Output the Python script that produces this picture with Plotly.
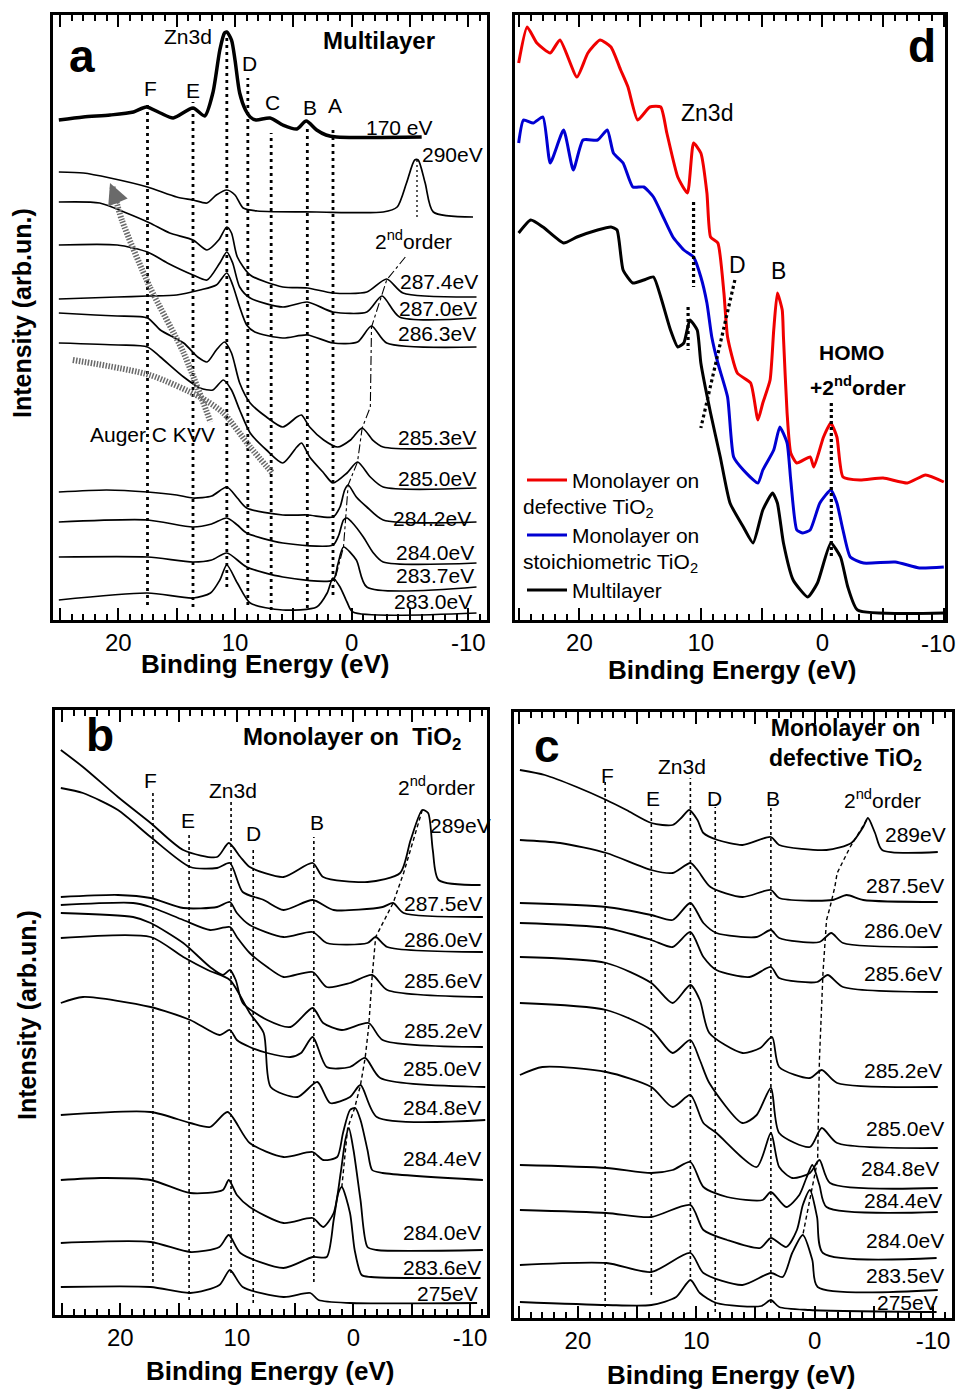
import plotly.graph_objects as go

FONT = "Liberation Sans, Arial, Helvetica, sans-serif"
W, H = 961, 1389

# ---------------- Panel a : Multilayer ----------------
a_names = ['170 eV', '290eV', '287.4eV', '287.0eV', '286.3eV', '285.3eV', '285.0eV',
           '284.2eV', '284.0eV', '283.7eV', '283.0eV']
a_E = [
    [25.1, 23.0, 20.7, 18.7, 17.6, 16.4, 15.3, 13.6, 12.6, 11.9, 11.3, 10.9, 10.7, 10.3, 10.0, 9.6, 9.1, 8.7, 8.2, 7.0, 5.9, 4.7, 3.9, 3.0, 2.2, 1.3, -6.0],
    [25.1, 23.0, 20.7, 17.5, 15.0, 13.6, 12.4, 11.6, 10.7, 10.0, 9.3, 8.1, 3.0, -2.7, -3.9, -4.7, -5.4, -5.7, -6.3, -7.0, -10.4],
    [25.1, 21.6, 19.3, 17.3, 15.6, 13.6, 12.4, 11.4, 10.7, 10.3, 9.8, 8.7, 5.9, 3.8, 1.6, -1.3, -3.0, -4.4, -10.7],
    [25.1, 20.1, 17.5, 15.8, 13.6, 12.4, 11.3, 10.7, 10.2, 9.6, 8.7, 5.9, 3.8, 1.6, -1.3, -2.6, -4.1, -10.7],
    [25.1, 20.1, 17.5, 15.0, 13.0, 11.6, 10.7, 10.2, 9.6, 9.0, 8.3, 5.9, 3.8, 1.6, -0.5, -1.7, -3.0, -10.7],
    [25.1, 22.0, 20.1, 17.5, 16.4, 14.4, 13.2, 12.4, 11.6, 10.9, 10.3, 9.6, 8.7, 7.3, 5.9, 4.7, 4.3, 3.6, 2.4, 1.2, 0.1, -0.9, -1.8, -2.7, -10.7],
    [25.1, 20.0, 17.5, 16.4, 14.4, 13.0, 11.9, 11.0, 10.3, 9.6, 8.7, 7.3, 5.9, 4.7, 4.3, 3.6, 2.4, 1.6, 0.4, -0.5, -1.6, -2.7, -10.7],
    [25.1, 21.0, 17.5, 15.0, 13.6, 12.0, 10.7, 9.8, 9.0, 5.9, 3.8, 1.6, 1.0, 0.6, 0.3, -0.4, -1.3, -2.7, -10.7],
    [25.1, 17.5, 13.6, 12.0, 10.7, 9.8, 9.0, 5.9, 1.6, 1.1, 0.7, 0.4, 0.0, -1.0, -1.8, -2.7, -10.7],
    [25.1, 17.5, 13.6, 12.0, 10.7, 9.0, 5.9, 1.6, 1.2, 0.7, -0.4, -1.3, -10.7],
    [25.1, 17.5, 13.6, 12.1, 11.3, 10.7, 9.8, 8.7, 5.9, 3.0, 2.1, 1.6, 1.0, 0.4, -0.1, -10.7],
]
a_I = [
    [500, 503, 505, 508, 513, 507, 502, 512, 504, 527, 570, 587, 588, 580, 560, 527, 510, 503, 500, 502, 495, 491, 499, 490, 485, 483, 483],
    [448, 447, 442, 433, 423, 420, 417, 425, 430, 425, 412, 409, 408, 408, 413, 437, 460, 460, 437, 408, 403],
    [418, 417, 407, 397, 387, 380, 370, 380, 393, 387, 363, 345, 333, 332, 327, 328, 341, 327, 323],
    [375, 375, 368, 357, 345, 340, 357, 368, 357, 333, 322, 313, 318, 308, 308, 324, 303, 302],
    [321, 323, 324, 325, 330, 335, 347, 335, 313, 295, 288, 282, 285, 277, 278, 294, 277, 273],
    [307, 305, 304, 302, 290, 277, 263, 258, 270, 278, 267, 237, 217, 203, 193, 203, 205, 193, 180, 173, 180, 192, 180, 173, 172],
    [277, 275, 273, 263, 243, 232, 230, 240, 230, 210, 187, 170, 157, 173, 177, 163, 147, 137, 147, 158, 143, 133, 132],
    [128, 130, 128, 125, 122, 124, 133, 122, 112, 105, 105, 103, 113, 130, 135, 123, 113, 100, 98],
    [98, 100, 93, 96, 102, 95, 87, 77, 75, 85, 100, 102, 98, 83, 68, 58, 57],
    [63, 63, 58, 60, 67, 53, 43, 40, 55, 73, 60, 33, 33],
    [20, 27, 22, 27, 40, 55, 37, 17, 10, 13, 27, 42, 33, 18, 8, 7],
]
a_marks = ['F', 'E', 'Zn3d', 'D', 'C', 'B', 'A']
a_mark_E = [17.5, 13.6, 10.7, 8.9, 6.9, 3.8, 1.6]
a_mark_lo = [15, 13, 33, 15, 10, 12, 25]
a_mark_hi = [518, 518, 585, 542, 487, 495, 492]
a_2nd_E = [-4.6, -3.0, -1.7, -1.6, -0.9, -0.5, 0.3, 0.7, 1.6]
a_2nd_I = [363, 340, 293, 213, 192, 158, 135, 73, 33]
a_290_guide_E = [-5.6, -5.6]
a_290_guide_I = [460, 400]
a_auger1_E = [20.5, 19.7, 17.3, 14.4, 12.1]
a_auger1_I = [433, 400, 333, 267, 198]
a_auger2_E = [23.9, 17.3, 13.0, 11.0, 8.7, 6.8]
a_auger2_I = [260, 245, 223, 207, 173, 147]

# ---------------- Panel d : comparison ----------------
d_red_E = [25.0, 24.3, 23.5, 22.4, 21.6, 20.2, 19.3, 18.3, 17.4, 16.6, 16.0, 15.2, 14.2, 13.3, 12.8, 11.9, 11.1, 10.6, 10.0, 9.5, 9.2, 8.6, 8.1, 7.8, 7.0, 5.9, 5.3, 4.9, 4.3, 4.0, 3.7, 3.3, 3.2, 2.9, 2.6, 2.1, 1.0, 0.7, -0.1, -0.7, -1.2, -1.7, -3.1, -5.0, -7.0, -8.5, -10.0]
d_red_I = [557, 593, 577, 567, 580, 543, 567, 580, 573, 550, 533, 500, 513, 513, 487, 443, 427, 477, 467, 427, 383, 377, 327, 283, 247, 237, 200, 217, 240, 290, 327, 310, 283, 207, 167, 157, 163, 153, 183, 197, 183, 143, 140, 142, 137, 145, 138]
d_blue_E = [25.0, 24.6, 23.8, 23.0, 22.4, 21.3, 20.5, 19.7, 18.5, 17.7, 17.2, 16.4, 15.6, 14.7, 13.9, 13.1, 12.3, 11.4, 10.6, 10.0, 9.5, 9.1, 8.6, 7.8, 7.3, 6.5, 5.3, 4.9, 4.0, 3.5, 2.9, 2.6, 2.1, 1.6, 1.0, 0.2, -0.7, -1.2, -1.7, -2.3, -3.4, -6.0, -8.0, -10.0]
d_blue_I = [477, 500, 497, 503, 457, 490, 450, 480, 480, 490, 467, 457, 433, 433, 423, 403, 383, 370, 363, 343, 317, 283, 257, 223, 163, 150, 137, 150, 170, 193, 177, 140, 90, 87, 90, 117, 130, 117, 90, 63, 57, 58, 52, 53]
d_black_E = [25.0, 24.0, 23.0, 21.3, 20.2, 18.5, 17.4, 16.9, 16.4, 15.6, 14.7, 13.9, 13.3, 12.5, 11.9, 11.4, 10.9, 10.3, 10.0, 9.2, 8.4, 7.6, 6.5, 5.7, 4.9, 4.1, 3.7, 3.2, 2.4, 1.2, 0.4, -0.7, -1.5, -2.1, -2.9, -10.0]
d_black_I = [387, 400, 393, 377, 383, 390, 393, 390, 350, 337, 340, 343, 323, 290, 273, 277, 300, 290, 257, 207, 163, 117, 93, 77, 110, 127, 117, 77, 40, 23, 37, 77, 63, 33, 10, 7]
d_zn_E1, d_zn_I1 = [10.6, 10.6], [418, 333]
d_zn_E2, d_zn_I2 = [11.05, 11.05], [313, 270]
d_D_E, d_D_I = [7.2, 10.0], [340, 192]
d_homo_E, d_homo_I = [-0.74, -0.74], [217, 63]

# ---------------- Panel b : Monolayer on TiO2 ----------------
b_names = ['289eV', '287.5eV', '286.0eV', '285.6eV', '285.2eV', '285.0eV', '284.8eV',
           '284.4eV', '284.0eV', '283.6eV', '275eV']
b_E = [
    [25.1, 23.2, 20.2, 17.4, 14.6, 11.7, 10.7, 9.7, 8.9, 6.0, 3.5, 2.6, -1.2, -4.0, -4.9, -5.9, -6.4, -6.8, -7.3, -10.9],
    [25.1, 23.2, 20.2, 17.4, 14.0, 11.7, 10.6, 9.5, 7.7, 6.0, 3.5, 1.7, -2.5, -3.4, -4.3, -11.1],
    [25.1, 20.2, 17.4, 14.6, 11.7, 10.6, 10.0, 8.9, 6.0, 3.5, 2.3, -1.2, -1.9, -2.9, -11.1],
    [25.1, 18.9, 17.4, 14.6, 12.3, 10.6, 10.0, 8.9, 7.4, 6.0, 3.5, 2.3, 0.3, -1.6, -2.9, -11.1],
    [25.1, 18.9, 17.4, 14.6, 12.3, 11.2, 10.6, 10.1, 9.5, 7.4, 5.4, 3.5, 2.6, 1.0, -1.3, -2.5, -11.1],
    [25.1, 23.2, 17.4, 14.0, 11.5, 10.6, 10.0, 8.9, 7.4, 5.4, 4.5, 3.5, 2.3, 0.3, -1.0, -2.3, -11.3],
    [25.1, 17.4, 14.6, 12.5, 10.6, 8.9, 7.7, 7.1, 4.8, 3.1, 2.0, 0.3, -0.6, -2.0, -11.3],
    [25.1, 17.4, 14.0, 12.3, 10.8, 8.9, 6.0, 3.5, 2.6, 1.4, 0.9, 0.3, -0.15, -0.6, -1.2, -1.6, -2.5, -11.1],
    [25.1, 21.7, 17.4, 14.0, 11.2, 10.7, 10.0, 8.9, 6.0, 3.5, 2.6, 1.7, 1.1, 0.7, 0.4, 0.0, -0.6, -1.2, -2.0, -11.1],
    [25.1, 17.4, 14.0, 11.5, 10.7, 9.7, 6.0, 3.5, 2.3, 1.7, 1.3, 1.0, 0.3, -0.1, -0.7, -1.5, -10.9],
    [25.1, 17.4, 14.0, 11.5, 10.6, 9.5, 6.0, 3.7, 3.0, 0.3, -10.6],
]
b_I = [
    [565, 548, 518, 492, 465, 458, 472, 458, 448, 438, 452, 438, 433, 442, 475, 505, 502, 465, 435, 430],
    [527, 522, 505, 478, 448, 447, 452, 423, 415, 405, 415, 405, 408, 412, 402, 398],
    [418, 420, 417, 407, 408, 413, 402, 390, 378, 383, 372, 372, 378, 368, 363],
    [410, 412, 408, 395, 385, 388, 378, 362, 348, 338, 343, 328, 332, 340, 325, 318],
    [402, 398, 392, 372, 348, 340, 345, 335, 312, 295, 288, 307, 292, 285, 292, 275, 268],
    [312, 318, 308, 295, 280, 285, 275, 268, 262, 258, 262, 278, 248, 248, 257, 237, 228],
    [377, 378, 358, 345, 335, 302, 282, 228, 218, 233, 212, 218, 230, 198, 195],
    [200, 203, 192, 188, 203, 172, 158, 163, 155, 158, 182, 205, 207, 195, 165, 145, 142, 135],
    [135, 137, 135, 122, 125, 135, 120, 108, 92, 97, 88, 102, 142, 175, 187, 165, 115, 68, 65, 65],
    [72, 73, 63, 68, 80, 62, 47, 58, 58, 95, 122, 128, 102, 65, 40, 38, 37],
    [28, 28, 22, 30, 45, 28, 18, 22, 15, 12, 12],
]
b_marks = ['F', 'E', 'Zn3d', 'D', 'B']
b_mark_E = [17.2, 14.1, 10.5, 8.6, 3.4]
b_mark_lo = [33, 15, 42, 12, 33]
b_mark_hi = [522, 483, 513, 468, 478]
b_2nd_E = [-5.9, -4.3, -3.4, -1.9, -1.6, -1.3, -1.0, -0.6, -0.1, 0.5, 1.0]
b_2nd_I = [505, 442, 412, 378, 338, 288, 257, 230, 207, 187, 128]

# ---------------- Panel c : Monolayer on defective TiO2 ----------------
c_names = ['289eV', '287.5eV', '286.0eV', '285.6eV', '285.2eV', '285.0eV', '284.8eV',
           '284.4eV', '284.0eV', '283.5eV', '275eV']
c_E = [
    [24.9, 22.8, 20.1, 17.6, 15.9, 13.8, 12.0, 11.2, 10.6, 9.9, 9.4, 8.2, 6.1, 3.7, 3.0, -1.0, -3.1, -4.1, -4.5, -5.1, -5.7, -10.4],
    [24.9, 21.5, 17.6, 13.8, 12.0, 10.5, 9.9, 8.8, 6.1, 3.7, 3.0, -1.5, -2.7, -4.1, -10.4],
    [24.9, 17.6, 13.8, 12.0, 10.5, 9.4, 8.3, 4.9, 3.7, 3.0, -0.4, -1.4, -2.4, -10.4],
    [24.9, 17.6, 13.8, 12.0, 10.5, 9.4, 8.3, 5.5, 3.7, 3.0, -0.2, -1.1, -2.4, -10.4],
    [24.9, 17.6, 13.8, 12.0, 10.5, 9.7, 8.9, 6.1, 4.6, 3.6, 3.0, 0.4, -0.6, -1.9, -10.4],
    [24.9, 17.6, 13.8, 12.0, 10.5, 9.7, 8.9, 6.1, 4.9, 3.7, 3.0, 0.4, -0.6, -1.9, -10.4],
    [24.9, 23.0, 17.6, 13.8, 12.0, 10.5, 9.4, 8.3, 4.9, 3.7, 3.0, 1.9, 0.4, -0.4, -1.3, -10.4],
    [24.9, 17.6, 13.8, 12.0, 10.5, 9.4, 7.4, 4.4, 3.7, 2.4, 1.3, 0.7, 0.2, -0.4, -1.0, -10.4],
    [24.9, 17.6, 13.8, 10.5, 9.4, 7.4, 4.6, 3.7, 2.4, 1.5, 1.0, 0.4, -0.2, -0.7, -10.3],
    [24.9, 17.6, 13.8, 10.5, 9.4, 6.1, 3.7, 2.7, 1.9, 1.0, 0.2, -0.25, -10.4],
    [24.9, 17.6, 13.8, 11.7, 10.5, 9.7, 8.3, 4.5, 3.7, 3.0, 0.4, -10.3],
]
c_I = [
    [548, 543, 531, 518, 508, 495, 493, 501, 508, 498, 485, 478, 473, 481, 473, 468, 475, 491, 500, 485, 468, 466],
    [478, 475, 465, 448, 445, 455, 448, 431, 421, 428, 420, 418, 423, 418, 416],
    [415, 411, 403, 398, 415, 395, 385, 381, 388, 380, 376, 385, 375, 371],
    [395, 390, 378, 371, 386, 361, 348, 341, 351, 340, 336, 343, 331, 326],
    [361, 355, 335, 315, 333, 318, 285, 265, 270, 281, 251, 240, 248, 235, 231],
    [315, 308, 288, 265, 278, 258, 235, 195, 203, 230, 185, 171, 190, 175, 170],
    [243, 251, 246, 231, 211, 223, 195, 185, 151, 185, 151, 140, 145, 158, 135, 130],
    [153, 150, 145, 148, 156, 131, 121, 118, 126, 111, 123, 140, 153, 133, 111, 106],
    [108, 105, 101, 113, 88, 78, 70, 80, 71, 88, 113, 128, 101, 65, 60],
    [53, 55, 46, 65, 45, 33, 45, 41, 65, 83, 58, 31, 28],
    [16, 13, 13, 21, 38, 25, 15, 12, 18, 11, 8, 6],
]
c_marks = ['F', 'E', 'Zn3d', 'D', 'B']
c_mark_E = [17.7, 13.8, 10.5, 8.4, 3.7]
c_mark_lo = [11, 23, 41, 6, 15]
c_mark_hi = [536, 506, 540, 511, 510]
c_2nd_E = [-4.4, -3.0, -1.9, -1.7, -1.3, -1.0, -0.7, -0.6, -0.4, -0.25, 1.0]
c_2nd_I = [498, 471, 445, 431, 411, 398, 345, 318, 258, 158, 83]

tick_vals = [25, 20, 15, 10, 5, 0, -5, -10]
tick_text = ['', '20', '', '10', '', '0', '', '-10']
tick_text_d = ['', '20', '', '10', '', '0', '', '']

# ======================================================
fig = go.Figure()

def line(ax, xs, ys, width=1.5, color='black', dash='solid', shape='spline', smoothing=0.7):
    fig.add_trace(go.Scatter(
        x=xs, y=ys, mode='lines', xaxis='x' + ax, yaxis='y' + ax, hoverinfo='skip',
        line=dict(color=color, width=width, dash=dash, shape=shape, smoothing=smoothing),
        showlegend=False))

# panel a (axis '')
for i, (xs, ys) in enumerate(zip(a_E, a_I)):
    line('', xs, ys, width=3.5 if i == 0 else 1.7)
for e, lo, hi in zip(a_mark_E, a_mark_lo, a_mark_hi):
    line('', [e, e], [lo, hi], width=2.8, dash='3px,4px', shape='linear')
line('', a_2nd_E, a_2nd_I, width=1.1, dash='dashdot', shape='linear')
line('', a_290_guide_E, a_290_guide_I, width=1.3, dash='2px,3px', shape='linear')
line('', a_auger1_E, a_auger1_I, width=6, color='#6a6a6a', dash='1.5px,1.5px')
line('', a_auger2_E, a_auger2_I, width=6, color='#6a6a6a', dash='1.5px,1.5px')

# panel d (axis '2')
line('2', d_red_E, d_red_I, width=3, color='rgb(240,0,0)', smoothing=0.5)
line('2', d_blue_E, d_blue_I, width=3, color='rgb(0,0,210)', smoothing=0.5)
line('2', d_black_E, d_black_I, width=3, color='black', smoothing=0.5)
for xs, ys in [(d_zn_E1, d_zn_I1), (d_zn_E2, d_zn_I2), (d_D_E, d_D_I), (d_homo_E, d_homo_I)]:
    line('2', xs, ys, width=3.2, dash='3px,3px', shape='linear')

# panel b (axis '3')
for xs, ys in zip(b_E, b_I):
    line('3', xs, ys, width=1.8)
for e, lo, hi in zip(b_mark_E, b_mark_lo, b_mark_hi):
    line('3', [e, e], [lo, hi], width=1.6, dash='3px,3px', shape='linear')
line('3', b_2nd_E, b_2nd_I, width=1.4, dash='4px,3px', shape='linear')

# panel c (axis '4')
for xs, ys in zip(c_E, c_I):
    line('4', xs, ys, width=1.8)
for e, lo, hi in zip(c_mark_E, c_mark_lo, c_mark_hi):
    line('4', [e, e], [lo, hi], width=1.6, dash='3px,3px', shape='linear')
line('4', c_2nd_E, c_2nd_I, width=1.4, dash='4px,3px', shape='linear')

# ---------------- axes ----------------
def px2x(px):
    return px / W

def py2y(py):
    return 1 - py / H

def xaxis(dom, rng, anchor, ttext):
    return dict(domain=dom, range=rng, anchor=anchor, showline=True, linewidth=3, linecolor='black',
                mirror='ticks', ticks='inside', ticklen=12, tickwidth=2, tickcolor='black',
                tickmode='array', tickvals=tick_vals, ticktext=ttext,
                minor=dict(ticks='inside', ticklen=6, tickwidth=2, tickcolor='black',
                           tickmode='linear', tick0=0, dtick=1),
                showgrid=False, zeroline=False, ticklabelstandoff=-1,
                tickfont=dict(family=FONT, size=24, color='black'))

def yaxis(dom, rng, anchor):
    return dict(domain=dom, range=rng, anchor=anchor, showline=True, linewidth=3, linecolor='black',
                mirror=True, ticks='', showticklabels=False, showgrid=False, zeroline=False)

fig.update_layout(
    width=W, height=H, autosize=False, margin=dict(l=0, r=0, t=0, b=0),
    paper_bgcolor='white', plot_bgcolor='white', showlegend=False,
    xaxis=xaxis([px2x(53), px2x(487)], [25.6, -11.6], 'y', tick_text),
    yaxis=yaxis([py2y(620), py2y(15)], [0, 605], 'x'),
    xaxis2=xaxis([px2x(515), px2x(945)], [25.3, -10.1], 'y2', tick_text_d),
    yaxis2=yaxis([py2y(620), py2y(15)], [0, 605], 'x2'),
    xaxis3=xaxis([px2x(55), px2x(487)], [25.6, -11.45], 'y3', tick_text),
    yaxis3=yaxis([py2y(1315), py2y(710)], [0, 605], 'x3'),
    xaxis4=xaxis([px2x(514), px2x(952)], [25.4, -11.6], 'y4', tick_text),
    yaxis4=yaxis([py2y(1318), py2y(712)], [0, 606], 'x4'),
)

def txt(px, py, s, size=21, bold=False, xanchor='center', angle=0, color='black'):
    fig.add_annotation(x=px2x(px), y=py2y(py), xref='paper', yref='paper',
                       text=('<b>' + s + '</b>') if bold else s, showarrow=False,
                       font=dict(family=FONT, size=size, color=color),
                       xanchor=xanchor, yanchor='middle', textangle=angle)

# "-10" tick label of panel d sits at the right page edge
txt(958, 643, '-10', size=24, xanchor='right')

# axis titles
for (x, y) in [(265, 664), (732, 670), (270, 1371), (731, 1375)]:
    txt(x, y, 'Binding Energy (eV)', size=26, bold=True)
txt(22, 313, 'Intensity (arb.un.)', size=25, bold=True, angle=-90)
txt(27, 1015, 'Intensity (arb.un.)', size=25, bold=True, angle=-90)

# panel letters
txt(82, 56, 'a', size=46, bold=True)
txt(922, 46, 'd', size=46, bold=True)
txt(100, 735, 'b', size=46, bold=True)
txt(547, 746, 'c', size=46, bold=True)

# panel a texts
txt(379, 41, 'Multilayer', size=24, bold=True)
a_mark_pos = [(150, 88), (193, 90), (188, 36), (250, 63), (272, 103), (310, 107), (335, 105)]
for m, (x, y) in zip(a_marks, a_mark_pos):
    txt(x, y, m, size=21)
a_lab_pos = [(399, 127), (452, 154), (439, 282), (438, 309), (437, 334), (437, 437), (437, 478),
             (432, 518), (435, 552), (435, 575), (433, 601)]
for n, (x, y) in zip(a_names, a_lab_pos):
    txt(x, y, n, size=21)
txt(413, 240, '2<sup>nd</sup>order', size=21)
txt(152, 435, 'Auger C KVV', size=21)
fig.add_annotation(x=px2x(110), y=py2y(183), xref='paper', yref='paper', text='', showarrow=True,
                   ax=9, ay=22, arrowhead=2, arrowsize=1.4, arrowwidth=3, arrowcolor='#6a6a6a')

# panel d texts
txt(707, 113, 'Zn3d', size=23)
txt(737, 265, 'D', size=23)
txt(778, 271, 'B', size=23)
txt(851, 353, 'HOMO', size=21, bold=True)
txt(858, 386, '+2<sup>nd</sup>order', size=21, bold=True)
leg_rows = [(480, 'rgb(240,0,0)', 'Monolayer on', 'defective TiO<sub>2</sub>'),
            (535, 'rgb(0,0,210)', 'Monolayer on', 'stoichiometric TiO<sub>2</sub>'),
            (590, 'black', 'Multilayer', None)]
for y, col, t1, t2 in leg_rows:
    fig.add_shape(type='line', xref='paper', yref='paper', x0=px2x(527), x1=px2x(567),
                  y0=py2y(y), y1=py2y(y), line=dict(color=col, width=3))
    txt(570, y, t1, size=21, xanchor='left')
    if t2:
        txt(521, y + 28, t2, size=21, xanchor='left')

# panel b texts
txt(352, 738, 'Monolayer on  TiO<sub>2</sub>', size=24, bold=True)
b_mark_pos = [(150, 780), (188, 820), (233, 790), (253, 833), (317, 822)]
for m, (x, y) in zip(b_marks, b_mark_pos):
    txt(x, y, m, size=21)
txt(436, 786, '2<sup>nd</sup>order', size=21)
b_lab_pos = [(460, 825), (443, 903), (443, 940), (443, 980), (443, 1030), (442, 1068),
             (442, 1107), (442, 1158), (442, 1232), (442, 1267), (447, 1293)]
for n, (x, y) in zip(b_names, b_lab_pos):
    txt(x, y, n, size=21)

# panel c texts
txt(845, 744, 'Monolayer on<br>defective TiO<sub>2</sub>', size=23, bold=True)
c_mark_pos = [(607, 775), (653, 798), (682, 766), (714, 798), (773, 798)]
for m, (x, y) in zip(c_marks, c_mark_pos):
    txt(x, y, m, size=21)
txt(882, 799, '2<sup>nd</sup>order', size=21)
c_lab_pos = [(915, 835), (905, 885), (903, 930), (903, 973), (903, 1070), (905, 1128),
             (900, 1168), (903, 1200), (905, 1240), (905, 1275), (907, 1302)]
for n, (x, y) in zip(c_names, c_lab_pos):
    txt(x, y, n, size=21)

fig.write_html("out.html", config={'displayModeBar': False},
               post_script=("document.documentElement.style.margin='0';"
                            "document.body.style.margin='0';"
                            "document.documentElement.style.overflow='hidden';"
                            "document.body.style.overflow='hidden';"))
